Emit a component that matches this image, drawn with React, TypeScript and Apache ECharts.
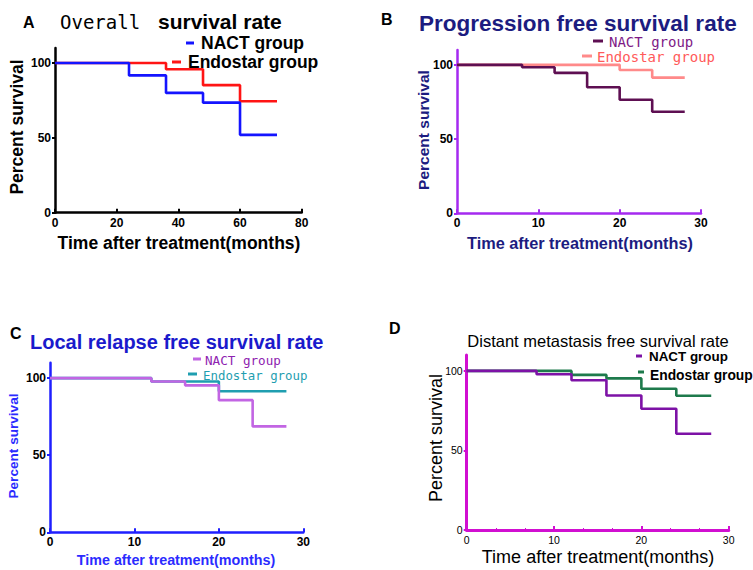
import React, { useEffect, useRef } from "react";
import * as echarts from "echarts";

// Panel A: Overall survival
const aNactT = [0, 24, 36, 48, 60, 72];
const aNactS = [100, 91.7, 80, 73.5, 52, 52];
const aEndoT = [0, 36, 48, 60, 72];
const aEndoS = [100, 95.8, 85.2, 74.4, 74.4];
// Panel B: Progression free survival
const bNactT = [0, 8, 12, 16, 20, 24, 28];
const bNactS = [100, 98.4, 94.6, 84.9, 76.5, 68.4, 68.4];
const bEndoT = [0, 20, 24, 28];
const bEndoS = [100, 96.5, 91.4, 91.4];
// Panel C: Local relapse free survival
const cNactT = [0, 12, 16, 20, 24, 28];
const cNactS = [100, 97.8, 95.3, 85.7, 68.7, 68.7];
const cEndoT = [0, 12, 20, 28];
const cEndoS = [100, 97.8, 91.5, 91.5];
// Panel D: Distant metastasis free survival
const dNactT = [0, 8, 12, 16, 20, 24, 28];
const dNactS = [100, 97.9, 94.1, 84.5, 76.2, 60.5, 60.5];
const dEndoT = [0, 12, 16, 20, 24, 28];
const dEndoS = [100, 97.5, 95.3, 88.8, 84.4, 84.4];

const yTicks = [0, 50, 100];
const seriesNames = ["NACT group", "Endostar group"];
const titles = [
  "Overall",
  "survival rate",
  "Progression free survival rate",
  "Local relapse free survival rate",
  "Distant metastasis free survival rate",
];
const yTitle = "Percent survival";
const xTitle = "Time after treatment(months)";

const SANS = "'Liberation Sans', Arial, sans-serif";
const MONO = "'DejaVu Sans Mono', 'Liberation Mono', monospace";

const pairs = (t: number[], s: number[]) => t.map((v, i) => [v, s[i]]);

export default function App() {
  const ref = useRef<HTMLDivElement>(null);
  useEffect(() => {
    if (!ref.current) return;
    const chart = echarts.init(ref.current, undefined, { renderer: "svg" });

    const grids = [
      { left: 55, top: 48, width: 246.7, height: 164.7 },
      { left: 457, top: 50, width: 244, height: 163.3 },
      { left: 50, top: 362.7, width: 253.3, height: 169.6 },
      { left: 466.7, top: 355, width: 262, height: 175 },
    ];
    const axisColors = ["#000000", "#a52af0", "#1f1fff", "#d10fd1"];
    const axisWidths = [2.5, 2.5, 2.5, 3];
    const xMax = [80, 30, 30, 30];
    const xInt = [20, 10, 10, 10];
    const labelStyle = (i: number) =>
      i === 3
        ? { color: "#000", fontSize: 10.5, fontFamily: SANS, fontWeight: "normal" as const }
        : { color: "#000", fontSize: 12, fontFamily: SANS, fontWeight: "bold" as const };

    const xAxis = grids.map((_, i) => ({
      gridIndex: i,
      type: "value" as const,
      min: 0,
      max: xMax[i],
      interval: xInt[i],
      axisLine: { show: true, lineStyle: { color: axisColors[i], width: axisWidths[i] } },
      axisTick: { show: true, inside: true, length: 4, lineStyle: { color: axisColors[i], width: 2 } },
      minorTick: { show: i === 3, splitNumber: 3, length: 2, lineStyle: { color: axisColors[i], width: 1 } },
      axisLabel: { ...labelStyle(i), margin: 4 },
      splitLine: { show: false },
    }));
    const yAxis = grids.map((_, i) => ({
      gridIndex: i,
      type: "value" as const,
      min: 0,
      max: 110,
      axisLine: { show: true, lineStyle: { color: axisColors[i], width: axisWidths[i] } },
      axisTick: { show: true, length: 3, customValues: yTicks, lineStyle: { color: axisColors[i], width: 2 } },
      axisLabel: { ...labelStyle(i), margin: 4, customValues: yTicks },
      splitLine: { show: false },
    }));

    const mk = (name: string, i: number, data: number[][], color: string) => ({
      name,
      type: "line" as const,
      xAxisIndex: i,
      yAxisIndex: i,
      step: "end" as const,
      showSymbol: false,
      symbol: "none",
      data,
      lineStyle: { color, width: 2.6 },
      itemStyle: { color },
    });

    const colA = ["#1414ff", "#ff1414"];
    const colB = ["#5e0f52", "#ff8a8a"];
    const colC = ["#c265e3", "#1f9eb0"];
    const colD = ["#7d12a6", "#1e7a4c"];

    const series = [
      mk(seriesNames[1], 0, pairs(aEndoT, aEndoS), colA[1]),
      mk(seriesNames[0], 0, pairs(aNactT, aNactS), colA[0]),
      mk(seriesNames[1], 1, pairs(bEndoT, bEndoS), colB[1]),
      mk(seriesNames[0], 1, pairs(bNactT, bNactS), colB[0]),
      mk(seriesNames[1], 2, pairs(cEndoT, cEndoS), colC[1]),
      mk(seriesNames[0], 2, pairs(cNactT, cNactS), colC[0]),
      mk(seriesNames[1], 3, pairs(dEndoT, dEndoS), colD[1]),
      mk(seriesNames[0], 3, pairs(dNactT, dNactS), colD[0]),
    ];

    const txt = (
      text: string,
      x: number,
      y: number,
      font: string,
      fill: string,
      align = "left",
      rotation = 0
    ) => ({
      type: "text" as const,
      x,
      y,
      rotation,
      silent: true,
      style: { text, font, fill, align, verticalAlign: "middle" },
    });
    const dash = (x: number, y: number, w: number, fill: string) => ({
      type: "rect" as const,
      shape: { x, y: y - 1.5, width: w, height: 3 },
      style: { fill },
      silent: true,
    });

    const graphic = [
      // Panel A
      txt("A", 23, 22, `bold 16px ${SANS}`, "#000"),
      txt(titles[0], 60, 22, `19px ${MONO}`, "#000"),
      txt(titles[1], 158, 21, `bold 21px ${SANS}`, "#000"),
      dash(186, 43, 8, colA[0]),
      txt(seriesNames[0], 201, 43, `bold 17.5px ${SANS}`, "#000"),
      dash(172, 62, 9, colA[1]),
      txt(seriesNames[1], 188, 62, `bold 17.5px ${SANS}`, "#000"),
      txt(yTitle, 17, 127, `bold 17.5px ${SANS}`, "#000", "center", Math.PI / 2),
      txt(xTitle, 179, 243, `bold 17.5px ${SANS}`, "#000", "center"),
      // Panel B
      txt("B", 381, 19, `bold 16px ${SANS}`, "#000"),
      txt(titles[2], 419, 23, `bold 22.5px ${SANS}`, "#1c1c80"),
      dash(593, 41, 10, colB[0]),
      txt(seriesNames[0], 609, 42, `14px ${MONO}`, "#7e1a86"),
      dash(582, 56, 10, colB[1]),
      txt(seriesNames[1], 597, 57, `14px ${MONO}`, "#ff5a5a"),
      txt(yTitle, 423, 130, `bold 15.5px ${SANS}`, "#1c1c80", "center", Math.PI / 2),
      txt(xTitle, 580, 243, `bold 16.3px ${SANS}`, "#1c1c80", "center"),
      // Panel C
      txt("C", 10, 333, `bold 16px ${SANS}`, "#000"),
      txt(titles[3], 30, 342, `bold 20px ${SANS}`, "#1a1acc"),
      dash(193, 359, 8, colC[0]),
      txt(seriesNames[0], 205, 360, `12.6px ${MONO}`, "#8e22b0"),
      dash(188, 374, 9, colC[1]),
      txt(seriesNames[1], 203, 375, `12.4px ${MONO}`, "#1f9eb0"),
      txt(yTitle, 13, 446, `bold 13.6px ${SANS}`, "#2b2bff", "center", Math.PI / 2),
      txt(xTitle, 176, 560, `bold 14.3px ${SANS}`, "#2b2bff", "center"),
      // Panel D
      txt("D", 389, 328, `bold 16px ${SANS}`, "#000"),
      txt(titles[4], 598, 341, `16.5px ${SANS}`, "#000", "center"),
      dash(636, 356, 6, colD[0]),
      txt(seriesNames[0], 649, 356.5, `bold 13.4px ${SANS}`, "#000"),
      dash(638, 372, 6, colD[1]),
      txt(seriesNames[1], 650, 375, `bold 13.8px ${SANS}`, "#000"),
      txt(yTitle, 436, 438, `18px ${SANS}`, "#000", "center", Math.PI / 2),
      txt(xTitle, 598, 557, `18px ${SANS}`, "#000", "center"),
    ];

    chart.setOption({
      animation: false,
      backgroundColor: "#ffffff",
      grid: grids,
      xAxis,
      yAxis,
      series,
      graphic,
    });
    return () => chart.dispose();
  }, []);

  return (
    <div
      ref={ref}
      style={{ position: "fixed", left: 0, top: 0, width: 753, height: 570, background: "#fff" }}
    />
  );
}
